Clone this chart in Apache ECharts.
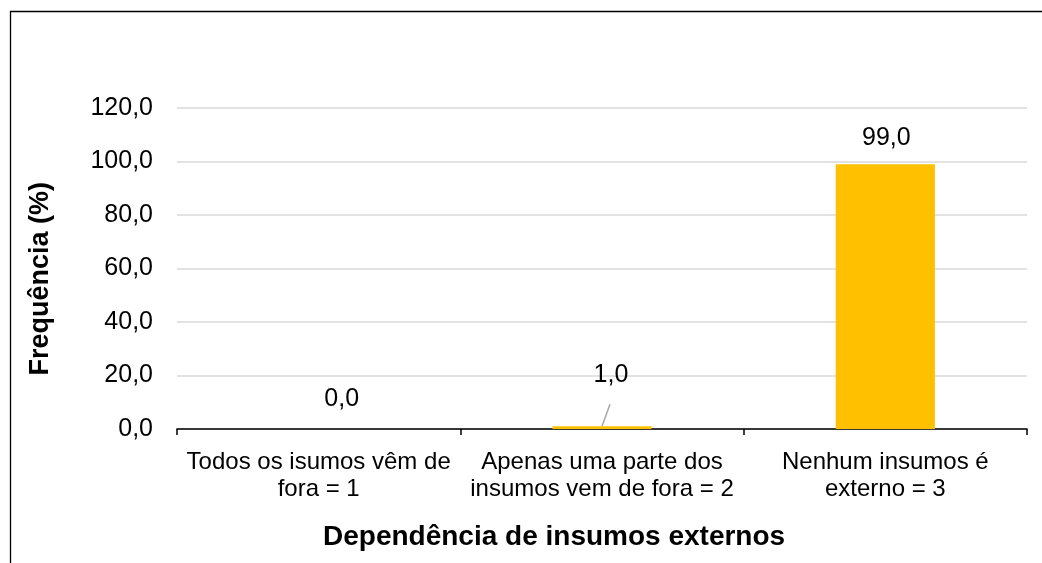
<!DOCTYPE html>
<html>
<head>
<meta charset="utf-8">
<script src="https://cdn.jsdelivr.net/npm/echarts@6/dist/echarts.min.js"></script>
<style>
  html, body { margin: 0; padding: 0; background: #fff; }
  #chart { width: 1042px; height: 563px; }
</style>
</head>
<body>
<div id="chart"></div>
<script>
// Dependência de insumos externos — frequência por categoria
const categories = [
  'Todos os isumos vêm de\nfora = 1',
  'Apenas uma parte dos\ninsumos vem de fora = 2',
  'Nenhum insumos é\nexterno = 3'
];
const frequencies = [0.0, 1.0, 99.0];
const yTicks = { min: 0, max: 120, step: 20 };
const yTitle = 'Frequência (%)';
const xTitle = 'Dependência de insumos externos';

const FONT = '"Liberation Sans", Arial, sans-serif';
const fmt = v => v.toFixed(1).replace('.', ',');

// per-bar label nudges (px)
const labelOffsets = [[23, -3], [9, -25], [1, 0]];

const chart = echarts.init(document.getElementById('chart'), null, { renderer: 'canvas' });

const option = {
  animation: false,
  backgroundColor: '#fff',
  grid: { left: 177, right: 15, top: 108, bottom: 134 },
  xAxis: {
    type: 'category',
    data: categories,
    axisLine: { lineStyle: { color: '#000', width: 1.5 } },
    axisTick: { show: true, alignWithLabel: false, length: 6, lineStyle: { color: '#000', width: 1.5 } },
    axisLabel: {
      color: '#000', fontFamily: FONT, fontSize: 24, lineHeight: 27,
      margin: 20, interval: 0
    }
  },
  yAxis: {
    type: 'value',
    min: yTicks.min, max: yTicks.max, interval: yTicks.step,
    axisLine: { show: false },
    axisTick: { show: false },
    splitLine: { lineStyle: { color: '#d9d9d9', width: 1.5 } },
    axisLabel: {
      color: '#000', fontFamily: FONT, fontSize: 25, margin: 24,
      formatter: v => fmt(v)
    }
  },
  series: [{
    type: 'bar',
    barWidth: '35%',
    itemStyle: { color: '#FFC000' },
    data: frequencies.map((v, i) => ({
      value: v,
      label: { offset: labelOffsets[i] }
    })),
    label: {
      show: true, position: 'top', distance: 14,
      color: '#000', fontFamily: FONT, fontSize: 25,
      formatter: p => fmt(p.value)
    }
  }],
  graphic: [
    {
      type: 'rect', silent: true,
      shape: { x: 10.5, y: 11.5, width: 1100, height: 700 },
      style: { fill: 'none', stroke: '#000', lineWidth: 1.3 }
    },
    {
      type: 'text', left: 27, top: 182, rotation: Math.PI / 2,
      style: { text: yTitle, fill: '#000', font: 'bold 27px ' + FONT },
      originX: 0, originY: 0
    },
    {
      type: 'text', left: 323, top: 523,
      style: { text: xTitle, fill: '#000', font: 'bold 28px ' + FONT }
    }
  ]
};

chart.setOption(option);

// Leader line from the small bar to its displaced value label
const barTop = chart.convertToPixel({ gridIndex: 0 }, [1, frequencies[1]]);
chart.setOption({
  graphic: option.graphic.concat([{
    type: 'line', silent: true,
    shape: {
      x1: barTop[0], y1: barTop[1],
      x2: barTop[0] + labelOffsets[1][0] - 1, y2: barTop[1] - 22
    },
    style: { stroke: '#a6a6a6', lineWidth: 1.5 }
  }])
});
</script>
</body>
</html>
